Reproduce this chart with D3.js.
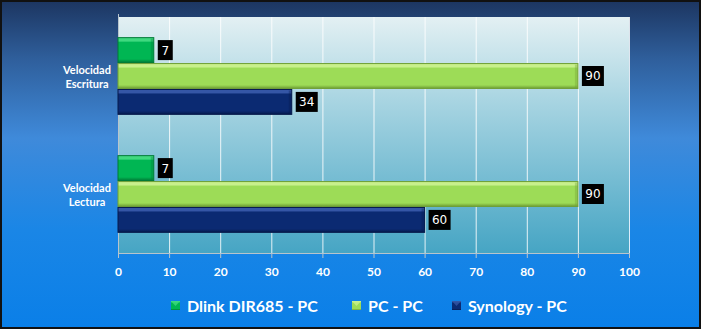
<!DOCTYPE html>
<html>
<head>
<meta charset="utf-8">
<script src="https://cdn.jsdelivr.net/npm/d3@7"></script>
<style>
  html, body { margin: 0; padding: 0; background: #000; }
  #chart { width: 701px; height: 329px; }
  text { font-family: Lato, "Open Sans", sans-serif; }
</style>
</head>
<body>
<div id="chart"></div>
<script>
// chart data
const categories = ["Velocidad Escritura", "Velocidad Lectura"];
const seriesNames = ["Dlink DIR685 - PC", "PC - PC", "Synology - PC"];
const dlinkValues = [7, 7];
const pcValues = [90, 90];
const synologyValues = [34, 60];
const xTicks = [0, 10, 20, 30, 40, 50, 60, 70, 80, 90, 100];

(function () {
    const W = 701, H = 329;
    const plot = { left: 118, right: 629, top: 17, bottom: 253 };

    const series = [
        { name: seriesNames[0], values: dlinkValues, light: "#3fd97f", main: "#00b653", dark: "#007a36" },
        { name: seriesNames[1], values: pcValues, light: "#c8f08c", main: "#9ddc57", dark: "#6f9f34" },
        { name: seriesNames[2], values: synologyValues, light: "#3556a6", main: "#0b2a72", dark: "#061a4c" }
    ];

    const svg = d3.select("#chart").append("svg")
        .attr("width", W).attr("height", H);
    const defs = svg.append("defs");

    // background gradient
    const bg = defs.append("linearGradient").attr("id", "bg")
        .attr("x1", 0).attr("x2", 0).attr("y1", 0).attr("y2", 1);
    bg.append("stop").attr("offset", "0%").attr("stop-color", "#1c3560");
    bg.append("stop").attr("offset", "18%").attr("stop-color", "#2f5f9c");
    bg.append("stop").attr("offset", "42%").attr("stop-color", "#3f8ada");
    bg.append("stop").attr("offset", "70%").attr("stop-color", "#1a86e6");
    bg.append("stop").attr("offset", "100%").attr("stop-color", "#0a7fe8");

    const pg = defs.append("linearGradient").attr("id", "plotbg")
        .attr("x1", 0).attr("x2", 0).attr("y1", 0).attr("y2", 1);
    pg.append("stop").attr("offset", "0%").attr("stop-color", "#e3f0f3");
    pg.append("stop").attr("offset", "35%").attr("stop-color", "#a9d5e2");
    pg.append("stop").attr("offset", "100%").attr("stop-color", "#46a5c4");

    series.forEach((s, i) => {
        const g = defs.append("linearGradient").attr("id", "bar" + i)
            .attr("x1", 0).attr("x2", 0).attr("y1", 0).attr("y2", 1);
        g.append("stop").attr("offset", "0%").attr("stop-color", s.light);
        g.append("stop").attr("offset", "14%").attr("stop-color", s.light);
        g.append("stop").attr("offset", "18%").attr("stop-color", s.main);
        g.append("stop").attr("offset", "86%").attr("stop-color", s.main);
        g.append("stop").attr("offset", "100%").attr("stop-color", s.dark);
    });

    svg.append("rect").attr("x", 0).attr("y", 0).attr("width", W).attr("height", H)
        .attr("fill", "url(#bg)");
    svg.append("rect").attr("x", 1).attr("y", 1).attr("width", W - 2).attr("height", H - 2)
        .attr("fill", "none").attr("stroke", "#111").attr("stroke-width", 2);

    const x = d3.scaleLinear().domain([0, 100]).range([plot.left, plot.right]);
    const y0 = d3.scaleBand().domain(categories).range([plot.top, plot.bottom]).paddingInner(0.35).paddingOuter(0.175);
    const y1 = d3.scaleBand().domain(d3.range(series.length)).range([0, y0.bandwidth()]).paddingInner(0.04);

    svg.append("rect")
        .attr("x", plot.left).attr("y", plot.top)
        .attr("width", plot.right - plot.left).attr("height", plot.bottom - plot.top)
        .attr("fill", "url(#plotbg)");

    // grid
    svg.append("g").selectAll("line").data(xTicks.slice(1)).join("line")
        .attr("x1", d => x(d) + 0.5).attr("x2", d => x(d) + 0.5)
        .attr("y1", plot.top).attr("y2", plot.bottom)
        .attr("stroke", "#ffffff").attr("stroke-opacity", 0.85);

    // axis
    const axis = d3.axisBottom(x).tickValues(xTicks).tickSize(5).tickPadding(9);
    const ax = svg.append("g").attr("transform", `translate(0,${plot.bottom})`).call(axis);
    ax.select(".domain").attr("stroke", "#b8c4cc");
    ax.selectAll(".tick line").attr("stroke", "#b8c4cc");
    ax.selectAll(".tick text").attr("fill", "#fff").attr("font-size", 12).attr("font-weight", "bold");
    svg.append("line").attr("x1", plot.left + 0.5).attr("x2", plot.left + 0.5)
        .attr("y1", plot.top - 3).attr("y2", plot.bottom)
        .attr("stroke", "#b8c4cc");

    // bars
    const groups = svg.append("g").selectAll("g").data(categories).join("g")
        .attr("transform", c => `translate(0,${y0(c)})`);

    groups.each(function (c, ci) {
        const g = d3.select(this);
        series.forEach((s, si) => {
            const v = s.values[ci];
            const by = y1(si), bh = y1.bandwidth();
            g.append("rect")
                .attr("x", x(0)).attr("y", by)
                .attr("width", x(v) - x(0)).attr("height", bh)
                .attr("fill", `url(#bar${si})`)
                .attr("stroke", s.dark).attr("stroke-width", 1);
            // right bevel
            g.append("rect")
                .attr("x", x(v) - 3).attr("y", by + 1)
                .attr("width", 2.5).attr("height", bh - 2)
                .attr("fill", s.dark).attr("opacity", 0.35);
            const label = String(v);
            const bw = label.length > 1 ? 22 : 15;
            g.append("rect")
                .attr("x", x(v) + 4).attr("y", by + bh / 2 - 10)
                .attr("width", bw).attr("height", 20)
                .attr("fill", "#000");
            g.append("text")
                .attr("x", x(v) + 4 + bw / 2).attr("y", by + bh / 2 + 4.5)
                .attr("text-anchor", "middle")
                .attr("fill", "#fff").attr("font-size", 12)
                .style("font-family", "'DejaVu Sans', sans-serif")
                .text(label);
        });
    });

    // category labels
    svg.append("g").selectAll("text").data(categories).join("text")
        .attr("x", 87)
        .attr("y", c => y0(c) + y0.bandwidth() / 2)
        .attr("text-anchor", "middle")
        .attr("fill", "#fff").attr("font-size", 11).attr("font-weight", "bold")
        .each(function (c) {
            const parts = c.split(" ");
            d3.select(this).selectAll("tspan").data(parts).join("tspan")
                .attr("x", 87)
                .attr("dy", (d, i) => i === 0 ? "-0.2em" : "1.3em")
                .text(d => d);
        });

    // legend
    const legendX = [171, 352, 452];
    const leg = svg.append("g").selectAll("g").data(series).join("g")
        .attr("transform", (d, i) => `translate(${legendX[i]},306)`);
    leg.append("rect").attr("x", 0).attr("y", -5).attr("width", 9).attr("height", 9)
        .attr("fill", (d, i) => `url(#bar${i})`);
    leg.append("path").attr("d", "M0,-5 L9,-5 L4.5,0 Z").attr("fill", d => d.light).attr("opacity", 0.8);
    leg.append("text").attr("x", 16).attr("y", 6)
        .attr("fill", "#fff").attr("font-size", 16).attr("font-weight", "bold")
        .text(d => d.name);
})();
</script>
</body>
</html>
